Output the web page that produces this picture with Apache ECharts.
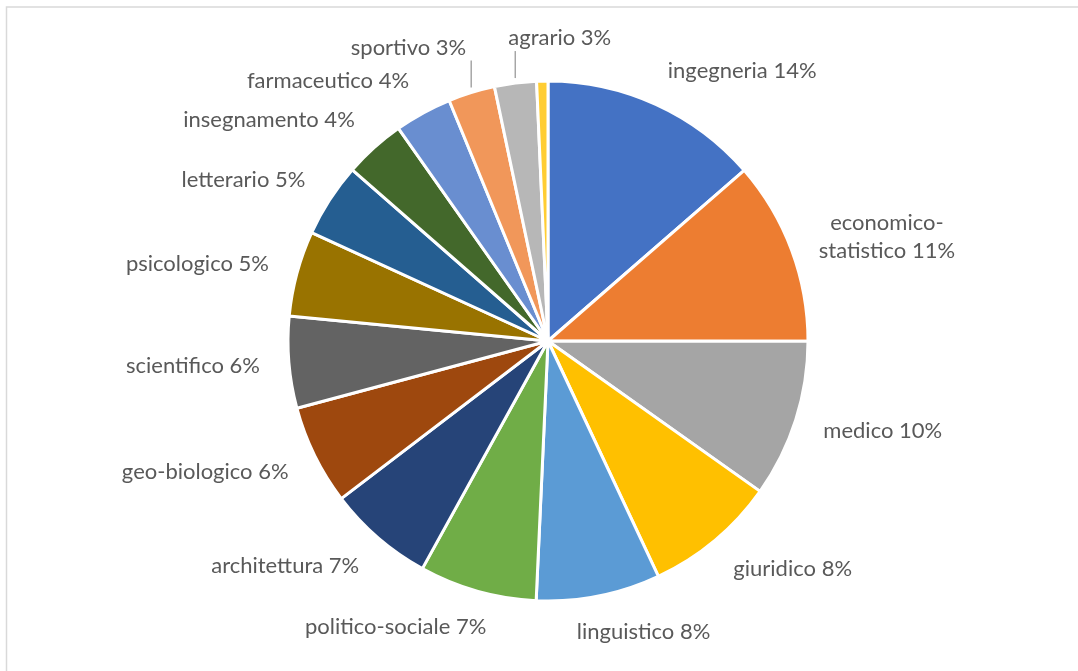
<!DOCTYPE html>
<html>
<head>
<meta charset="utf-8">
<script src="https://cdn.jsdelivr.net/npm/echarts@6/dist/echarts.min.js"></script>
<style>
  html, body { margin: 0; padding: 0; background: #ffffff; }
  #chart { width: 1078px; height: 671px; }
</style>
</head>
<body>
<div id="chart"></div>
<script>
// Ambiti disciplinari (percentuali sul totale)
const categories = [
  'ingegneria', 'economico-statistico', 'medico', 'giuridico', 'linguistico',
  'politico-sociale', 'architettura', 'geo-biologico', 'scientifico', 'psicologico',
  'letterario', 'insegnamento', 'farmaceutico', 'sportivo', 'agrario', 'altro'
];
const values = [
  13.6, 11.4, 9.8, 8.2, 7.7,
  7.3, 6.6, 6.2, 5.7, 5.3,
  4.6, 3.8, 3.55, 2.9, 2.6, 0.7
];
const colors = [
  '#4472C4', '#ED7D31', '#A5A5A5', '#FFC000', '#5B9BD5',
  '#70AD47', '#264478', '#9E480E', '#636363', '#997300',
  '#255E91', '#43682B', '#698ED0', '#F1975A', '#B7B7B7', '#FFCD33'
];
// Slices without a label
const hiddenLabels = ['altro'];
// Small slices whose label sits above a vertical leader line; value = side of the line
const leaderLabels = { 'sportivo': 'left', 'agrario': 'right' };

const CX = 548, CY = 341, R = 260;
const total = values.reduce((a, b) => a + b, 0);

// mid angle (radians, clockwise from 12 o'clock) of each slice
const midAngles = [];
let acc = 0;
values.forEach(v => { midAngles.push(((acc + v / 2) / total) * 2 * Math.PI); acc += v; });

const chart = echarts.init(document.getElementById('chart'), null, { renderer: 'canvas' });

const data = categories.map((name, i) => {
  const item = { name: name, value: values[i], itemStyle: { color: colors[i] } };
  if (hiddenLabels.indexOf(name) >= 0) {
    item.label = { show: false };
  }
  if (leaderLabels[name]) {
    item.labelLine = { show: true };
  }
  return item;
});

function clamp(v, a, b) { return Math.max(a, Math.min(b, v)); }

chart.setOption({
  animation: false,
  backgroundColor: '#ffffff',
  graphic: [{
    type: 'rect',
    shape: { x: 6.5, y: 7, width: 1200, height: 1200 },
    style: { fill: 'none', stroke: '#d9d9d9', lineWidth: 1.5 },
    silent: true
  }],
  series: [{
    type: 'pie',
    center: [CX, CY],
    radius: R,
    startAngle: 90,
    clockwise: true,
    avoidLabelOverlap: false,
    data: data,
    itemStyle: { borderColor: '#ffffff', borderWidth: 3 },
    label: {
      show: true,
      position: 'outside',
      fontFamily: 'Lato',
      fontSize: 22,
      color: '#595959',
      lineHeight: 28,
      formatter: p => {
        const name = p.name.length > 16 ? p.name.replace('-', '-\n') : p.name;
        return name + ' ' + Math.round(p.percent) + '%';
      }
    },
    labelLine: { show: false, lineStyle: { color: '#a6a6a6', width: 1.5 } },
    labelLayout: params => {
      const i = params.dataIndex;
      const a = midAngles[i];
      const dx = Math.sin(a), dy = -Math.cos(a);
      const ex = CX + (R + 1) * dx, ey = CY + (R + 1) * dy;
      const w = params.labelRect.width;
      const side = leaderLabels[categories[i]];
      if (side) {
        const yc = ey - 44;
        const left = side === 'left' ? ex - 5 - w : ex - 7;
        return {
          x: left + w / 2, y: yc, align: 'center', verticalAlign: 'middle',
          labelLinePoints: [[ex, ey - 4], [ex, yc + 13]]
        };
      }
      const s = clamp(3 * dx, -1, 1);
      const left = ex + 28 * dx - w * (1 - s) / 2;
      const yc = ey + 36 * dy;
      return { x: left + w / 2, y: yc, align: 'center', verticalAlign: 'middle' };
    }
  }]
});
</script>
</body>
</html>
